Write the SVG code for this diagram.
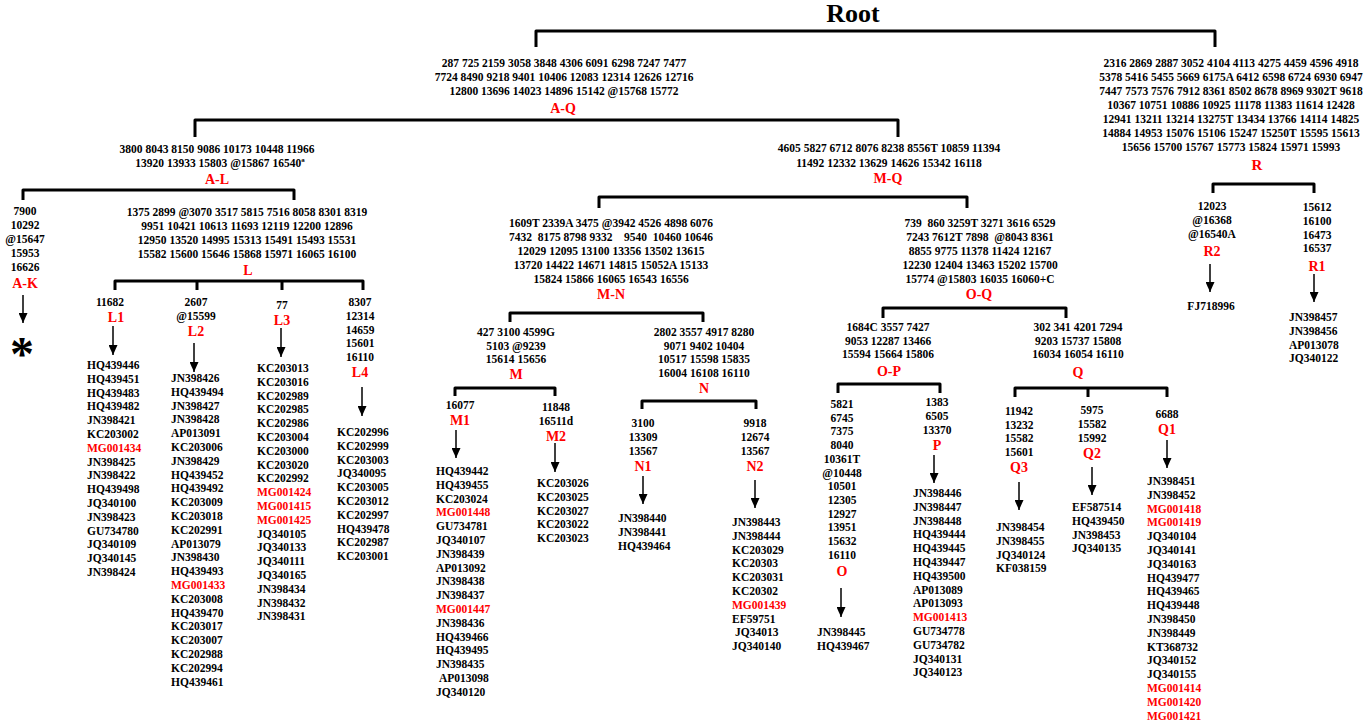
<svg xmlns="http://www.w3.org/2000/svg" width="1372" height="721" viewBox="0 0 1372 721">
<defs>
<style>
.n{font-family:"Liberation Serif","Times New Roman",serif;font-weight:bold;font-size:11.5px;fill:#000;text-anchor:middle;white-space:pre}
.l{font-family:"Liberation Serif","Times New Roman",serif;font-weight:bold;font-size:11.5px;fill:#000}
.red{fill:#f00}
.lab{font-family:"Liberation Serif","Times New Roman",serif;font-weight:bold;font-size:14px;fill:#f00;text-anchor:middle}
.br{fill:none;stroke:#000;stroke-width:3;stroke-linejoin:round}
.ar{fill:none;stroke:#000;stroke-width:1.5;marker-end:url(#ah)}
</style>
<marker id="ah" markerUnits="userSpaceOnUse" markerWidth="10" markerHeight="9" refX="10" refY="4.5" orient="auto"><path d="M0,0 L10,4.5 L0,9 z" fill="#000"/></marker>
</defs>
<rect width="1372" height="721" fill="#fff"/>

<g id="connectors">
<path class="br" d="M536,47 V31 H1215 V47"/>
<path class="br" d="M195,137 V120 H898 V137"/>
<path class="br" d="M23,200 V190 H294 V200"/>
<path class="br" d="M115,290 V281 H363 V290 M197,281 V290 M282,281 V290"/>
<path class="br" d="M599,208 V197 H967 V208"/>
<path class="br" d="M510,322 V313 H703 V322"/>
<path class="br" d="M883,318 V308 H1066 V318"/>
<path class="br" d="M455,396 V388 H555 V396"/>
<path class="br" d="M642,409 V401 H756 V409"/>
<path class="br" d="M838,393 V384 H940 V393"/>
<path class="br" d="M1015,397 V388 H1167 V397 M1088,388 V397"/>
<path class="br" d="M1213,193 V184 H1314 V193"/>
<line class="ar" x1="23" y1="295" x2="23" y2="323"/>
<line class="ar" x1="113" y1="326" x2="113" y2="355"/>
<line class="ar" x1="194" y1="343" x2="194" y2="372"/>
<line class="ar" x1="281" y1="328" x2="281" y2="357"/>
<line class="ar" x1="362" y1="387" x2="362" y2="416"/>
<line class="ar" x1="456" y1="430" x2="456" y2="458"/>
<line class="ar" x1="555" y1="443" x2="555" y2="472"/>
<line class="ar" x1="643" y1="476" x2="643" y2="504"/>
<line class="ar" x1="755" y1="480" x2="755" y2="508"/>
<line class="ar" x1="841" y1="588" x2="841" y2="617"/>
<line class="ar" x1="934" y1="455" x2="934" y2="483"/>
<line class="ar" x1="1019" y1="482" x2="1019" y2="510"/>
<line class="ar" x1="1092" y1="467" x2="1092" y2="495"/>
<line class="ar" x1="1167" y1="440" x2="1167" y2="468"/>
<line class="ar" x1="1210" y1="264" x2="1210" y2="292"/>
<line class="ar" x1="1314" y1="274" x2="1314" y2="302"/>
</g>

<g id="Root"><text x="853" y="22" style="font-family:'Liberation Serif',serif;font-weight:bold;font-size:26px;text-anchor:middle">Root</text></g>

<g id="AQ"><text class="n" x="564" y="67">287 725 2159 3058 3848 4306 6091 6298 7247 7477<tspan x="564" dy="14">7724 8490 9218 9401 10406 12083 12314 12626 12716</tspan><tspan x="564" dy="14">12800 13696 14023 14896 15142 @15768 15772</tspan></text><text class="lab" x="563" y="113">A-Q</text></g>

<g id="R"><text class="n" x="1231" y="67">2316 2869 2887 3052 4104 4113 4275 4459 4596 4918<tspan x="1231" dy="14">5378 5416 5455 5669 6175A 6412 6598 6724 6930 6947</tspan><tspan x="1231" dy="14">7447 7573 7576 7912 8361 8502 8678 8969 9302T 9618</tspan><tspan x="1231" dy="14">10367 10751 10886 10925 11178 11383 11614 12428</tspan><tspan x="1231" dy="14">12941 13211 13214 13275T 13434 13766 14114 14825</tspan><tspan x="1231" dy="14">14884 14953 15076 15106 15247 15250T 15595 15613</tspan><tspan x="1231" dy="14">15656 15700 15767 15773 15824 15971 15993</tspan></text><text class="lab" x="1257" y="170" style="font-size:15px">R</text></g>

<g id="AL"><text class="n" x="217" y="153">3800 8043 8150 9086 10173 10448 11966<tspan x="220" dy="14">13920 13933 15803 @15867 16540ª</tspan></text><text class="lab" x="217" y="184">A-L</text></g>

<g id="AK"><text class="n" x="25" y="215">7900<tspan x="25" dy="13.9">10292</tspan><tspan x="25" dy="13.9">@15647</tspan><tspan x="25" dy="13.9">15953</tspan><tspan x="25" dy="13.9">16626</tspan></text><text class="lab" x="25" y="288">A-K</text><text x="22" y="370" style="font-family:'Liberation Serif',serif;font-weight:bold;font-size:48px;text-anchor:middle">*</text></g>

<g id="L"><text class="n" x="247" y="216">1375 2899 @3070 3517 5815 7516 8058 8301 8319<tspan x="247" dy="14">9951 10421 10613 11693 12119 12200 12896</tspan><tspan x="247" dy="14">12950 13520 14995 15313 15491 15493 15531</tspan><tspan x="247" dy="14">15582 15600 15646 15868 15971 16065 16100</tspan></text><text class="lab" x="248" y="275">L</text></g>

<g id="L1"><text class="n" x="110" y="306">11682</text><text class="lab" x="116" y="322">L1</text>
<text class="l" x="87" y="369">HQ439446<tspan x="87" dy="13.8">HQ439451</tspan><tspan x="87" dy="13.8">HQ439483</tspan><tspan x="87" dy="13.8">HQ439482</tspan><tspan x="87" dy="13.8">JN398421</tspan><tspan x="87" dy="13.8">KC203002</tspan><tspan x="87" dy="13.8" class="red">MG001434</tspan><tspan x="87" dy="13.8">JN398425</tspan><tspan x="87" dy="13.8">JN398422</tspan><tspan x="87" dy="13.8">HQ439498</tspan><tspan x="87" dy="13.8">JQ340100</tspan><tspan x="87" dy="13.8">JN398423</tspan><tspan x="87" dy="13.8">GU734780</tspan><tspan x="87" dy="13.8">JQ340109</tspan><tspan x="87" dy="13.8">JQ340145</tspan><tspan x="87" dy="13.8">JN398424</tspan></text></g>

<g id="L2"><text class="n" x="196" y="306">2607<tspan x="196" dy="14">@15599</tspan></text><text class="lab" x="196" y="336">L2</text>
<text class="l" x="171" y="382">JN398426<tspan x="171" dy="13.8">HQ439494</tspan><tspan x="171" dy="13.8">JN398427</tspan><tspan x="171" dy="13.8">JN398428</tspan><tspan x="171" dy="13.8">AP013091</tspan><tspan x="171" dy="13.8">KC203006</tspan><tspan x="171" dy="13.8">JN398429</tspan><tspan x="171" dy="13.8">HQ439452</tspan><tspan x="171" dy="13.8">HQ439492</tspan><tspan x="171" dy="13.8">KC203009</tspan><tspan x="171" dy="13.8">KC203018</tspan><tspan x="171" dy="13.8">KC202991</tspan><tspan x="171" dy="13.8">AP013079</tspan><tspan x="171" dy="13.8">JN398430</tspan><tspan x="171" dy="13.8">HQ439493</tspan><tspan x="171" dy="13.8" class="red">MG001433</tspan><tspan x="171" dy="13.8">KC203008</tspan><tspan x="171" dy="13.8">HQ439470</tspan><tspan x="171" dy="13.8">KC203017</tspan><tspan x="171" dy="13.8">KC203007</tspan><tspan x="171" dy="13.8">KC202988</tspan><tspan x="171" dy="13.8">KC202994</tspan><tspan x="171" dy="13.8">HQ439461</tspan></text></g>

<g id="L3"><text class="n" x="282" y="309">77</text><text class="lab" x="282" y="325">L3</text>
<text class="l" x="257" y="372">KC203013<tspan x="257" dy="13.8">KC203016</tspan><tspan x="257" dy="13.8">KC202989</tspan><tspan x="257" dy="13.8">KC202985</tspan><tspan x="257" dy="13.8">KC202986</tspan><tspan x="257" dy="13.8">KC203004</tspan><tspan x="257" dy="13.8">KC203000</tspan><tspan x="257" dy="13.8">KC203020</tspan><tspan x="257" dy="13.8">KC202992</tspan><tspan x="257" dy="13.8" class="red">MG001424</tspan><tspan x="257" dy="13.8" class="red">MG001415</tspan><tspan x="257" dy="13.8" class="red">MG001425</tspan><tspan x="257" dy="13.8">JQ340105</tspan><tspan x="257" dy="13.8">JQ340133</tspan><tspan x="257" dy="13.8">JQ340111</tspan><tspan x="257" dy="13.8">JQ340165</tspan><tspan x="257" dy="13.8">JN398434</tspan><tspan x="257" dy="13.8">JN398432</tspan><tspan x="257" dy="13.8">JN398431</tspan></text></g>

<g id="L4"><text class="n" x="360" y="306">8307<tspan x="360" dy="13.8">12314</tspan><tspan x="360" dy="13.8">14659</tspan><tspan x="360" dy="13.8">15601</tspan><tspan x="360" dy="13.8">16110</tspan></text><text class="lab" x="360" y="377">L4</text>
<text class="l" x="337" y="436">KC202996<tspan x="337" dy="13.8">KC202999</tspan><tspan x="337" dy="13.8">KC203003</tspan><tspan x="337" dy="13.8">JQ340095</tspan><tspan x="337" dy="13.8">KC203005</tspan><tspan x="337" dy="13.8">KC203012</tspan><tspan x="337" dy="13.8">KC202997</tspan><tspan x="337" dy="13.8">HQ439478</tspan><tspan x="337" dy="13.8">KC202987</tspan><tspan x="337" dy="13.8">KC203001</tspan></text></g>

<g id="MQ"><text class="n" x="889" y="152">4605 5827 6712 8076 8238 8556T 10859 11394<tspan x="889" dy="15">11492 12332 13629 14626 15342 16118</tspan></text><text class="lab" x="888" y="183">M-Q</text></g>

<g id="MN"><text class="n" x="611" y="227">1609T 2339A 3475 @3942 4526 4898 6076<tspan x="611" dy="14">7432  8175 8798 9332    9540  10460 10646</tspan><tspan x="611" dy="14">12029 12095 13100 13356 13502 13615</tspan><tspan x="611" dy="14">13720 14422 14671 14815 15052A 15133</tspan><tspan x="611" dy="14">15824 15866 16065 16543 16556</tspan></text><text class="lab" x="611" y="299">M-N</text></g>

<g id="OQ"><text class="n" x="980" y="227">739  860 3259T 3271 3616 6529<tspan x="980" dy="14">7243 7612T 7898  @8043 8361</tspan><tspan x="980" dy="14">8855 9775 11378 11424 12167</tspan><tspan x="980" dy="13.5">12230 12404 13463 15202 15700</tspan><tspan x="980" dy="14">15774 @15803 16035 16060+C</tspan></text><text class="lab" x="979" y="299">O-Q</text></g>

<g id="M"><text class="n" x="516" y="336">427 3100 4599G<tspan x="516" dy="13.6">5103 @9239</tspan><tspan x="516" dy="13.6">15614 15656</tspan></text><text class="lab" x="516" y="379">M</text></g>

<g id="M1"><text class="n" x="460" y="409">16077</text><text class="lab" x="460" y="425">M1</text>
<text class="l" x="436" y="475">HQ439442<tspan x="436" dy="13.8">HQ439455</tspan><tspan x="436" dy="13.8">KC203024</tspan><tspan x="436" dy="13.8" class="red">MG001448</tspan><tspan x="436" dy="13.8">GU734781</tspan><tspan x="436" dy="13.8">JQ340107</tspan><tspan x="436" dy="13.8">JN398439</tspan><tspan x="436" dy="13.8">AP013092</tspan><tspan x="436" dy="13.8">JN398438</tspan><tspan x="436" dy="13.8">JN398437</tspan><tspan x="436" dy="13.8" class="red">MG001447</tspan><tspan x="436" dy="13.8">JN398436</tspan><tspan x="436" dy="13.8">HQ439466</tspan><tspan x="436" dy="13.8">HQ439495</tspan><tspan x="436" dy="13.8">JN398435</tspan><tspan x="439" dy="13.8">AP013098</tspan><tspan x="436" dy="13.8">JQ340120</tspan></text></g>

<g id="M2"><text class="n" x="556" y="411">11848<tspan x="556" dy="14">16511d</tspan></text><text class="lab" x="556" y="441">M2</text>
<text class="l" x="537" y="487">KC203026<tspan x="537" dy="13.8">KC203025</tspan><tspan x="537" dy="13.8">KC203027</tspan><tspan x="537" dy="13.8">KC203022</tspan><tspan x="537" dy="13.8">KC203023</tspan></text></g>

<g id="N"><text class="n" x="704" y="336">2802 3557 4917 8280<tspan x="704" dy="13.7">9071 9402 10404</tspan><tspan x="704" dy="13.7">10517 15598 15835</tspan><tspan x="704" dy="13.7">16004 16108 16110</tspan></text><text class="lab" x="704" y="393">N</text></g>

<g id="N1"><text class="n" x="643" y="427">3100<tspan x="643" dy="14">13309</tspan><tspan x="643" dy="14">13567</tspan></text><text class="lab" x="643" y="471">N1</text>
<text class="l" x="618" y="522">JN398440<tspan x="618" dy="13.8">JN398441</tspan><tspan x="618" dy="13.8">HQ439464</tspan></text></g>

<g id="N2"><text class="n" x="755" y="427">9918<tspan x="755" dy="14">12674</tspan><tspan x="755" dy="14">13567</tspan></text><text class="lab" x="755" y="471">N2</text>
<text class="l" x="732" y="526">JN398443<tspan x="732" dy="13.8">JN398444</tspan><tspan x="732" dy="13.8">KC203029</tspan><tspan x="732" dy="13.8">KC20303</tspan><tspan x="732" dy="13.8">KC203031</tspan><tspan x="732" dy="13.8">KC20302</tspan><tspan x="732" dy="13.8" class="red">MG001439</tspan><tspan x="732" dy="13.8">EF59751</tspan><tspan x="735" dy="13.8">JQ34013</tspan><tspan x="732" dy="13.8">JQ340140</tspan></text></g>

<g id="OP"><text class="n" x="888" y="331">1684C 3557 7427<tspan x="888" dy="13.7">9053 12287 13466</tspan><tspan x="888" dy="13.7">15594 15664 15806</tspan></text><text class="lab" x="889" y="376">O-P</text></g>

<g id="O"><text class="n" x="842" y="408">5821<tspan x="842" dy="13.7">6745</tspan><tspan x="842" dy="13.7">7375</tspan><tspan x="842" dy="13.7">8040</tspan><tspan x="842" dy="13.7">10361T</tspan><tspan x="842" dy="13.7">@10448</tspan><tspan x="842" dy="13.7">10501</tspan><tspan x="842" dy="13.7">12305</tspan><tspan x="842" dy="13.7">12927</tspan><tspan x="842" dy="13.7">13951</tspan><tspan x="842" dy="13.7">15632</tspan><tspan x="842" dy="13.7">16110</tspan></text><text class="lab" x="842" y="576">O</text>
<text class="l" x="817" y="636">JN398445<tspan x="817" dy="13.8">HQ439467</tspan></text></g>

<g id="P"><text class="n" x="937" y="406">1383<tspan x="937" dy="14">6505</tspan><tspan x="937" dy="14">13370</tspan></text><text class="lab" x="937" y="450">P</text>
<text class="l" x="913" y="497">JN398446<tspan x="913" dy="13.8">JN398447</tspan><tspan x="913" dy="13.8">JN398448</tspan><tspan x="913" dy="13.8">HQ439444</tspan><tspan x="913" dy="13.8">HQ439445</tspan><tspan x="913" dy="13.8">HQ439447</tspan><tspan x="913" dy="13.8">HQ439500</tspan><tspan x="913" dy="13.8">AP013089</tspan><tspan x="913" dy="13.8">AP013093</tspan><tspan x="913" dy="13.8" class="red">MG001413</tspan><tspan x="913" dy="13.8">GU734778</tspan><tspan x="913" dy="13.8">GU734782</tspan><tspan x="913" dy="13.8">JQ340131</tspan><tspan x="913" dy="13.8">JQ340123</tspan></text></g>

<g id="Q"><text class="n" x="1078" y="331">302 341 4201 7294<tspan x="1078" dy="13.7">9203 15737 15808</tspan><tspan x="1078" dy="13.7">16034 16054 16110</tspan></text><text class="lab" x="1078" y="377">Q</text></g>

<g id="Q3"><text class="n" x="1019" y="415">11942<tspan x="1019" dy="13.7">13232</tspan><tspan x="1019" dy="13.7">15582</tspan><tspan x="1019" dy="13.7">15601</tspan></text><text class="lab" x="1019" y="472">Q3</text>
<text class="l" x="996" y="531">JN398454<tspan x="996" dy="13.8">JN398455</tspan><tspan x="996" dy="13.8">JQ340124</tspan><tspan x="996" dy="13.8">KF038159</tspan></text></g>

<g id="Q2"><text class="n" x="1092" y="414">5975<tspan x="1092" dy="14">15582</tspan><tspan x="1092" dy="14">15992</tspan></text><text class="lab" x="1092" y="458">Q2</text>
<text class="l" x="1072" y="511">EF587514<tspan x="1072" dy="13.8">HQ439450</tspan><tspan x="1072" dy="13.8">JN398453</tspan><tspan x="1072" dy="13.8">JQ340135</tspan></text></g>

<g id="Q1"><text class="n" x="1167" y="418">6688</text><text class="lab" x="1167" y="434">Q1</text>
<text class="l" x="1147" y="485">JN398451<tspan x="1147" dy="13.8">JN398452</tspan><tspan x="1147" dy="13.8" class="red">MG001418</tspan><tspan x="1147" dy="13.8" class="red">MG001419</tspan><tspan x="1147" dy="13.8">JQ340104</tspan><tspan x="1147" dy="13.8">JQ340141</tspan><tspan x="1147" dy="13.8">JQ340163</tspan><tspan x="1147" dy="13.8">HQ439477</tspan><tspan x="1147" dy="13.8">HQ439465</tspan><tspan x="1147" dy="13.8">HQ439448</tspan><tspan x="1147" dy="13.8">JN398450</tspan><tspan x="1147" dy="13.8">JN398449</tspan><tspan x="1147" dy="13.8">KT368732</tspan><tspan x="1147" dy="13.8">JQ340152</tspan><tspan x="1147" dy="13.8">JQ340155</tspan><tspan x="1147" dy="13.8" class="red">MG001414</tspan><tspan x="1147" dy="13.8" class="red">MG001420</tspan><tspan x="1147" dy="13.8" class="red">MG001421</tspan></text></g>

<g id="R2"><text class="n" x="1212" y="210">12023<tspan x="1212" dy="14">@16368</tspan><tspan x="1212" dy="14">@16540A</tspan></text><text class="lab" x="1212" y="256">R2</text>
<text class="n" x="1211" y="310">FJ718996</text></g>

<g id="R1"><text class="n" x="1317" y="211">15612<tspan x="1317" dy="13.8">16100</tspan><tspan x="1317" dy="13.8">16473</tspan><tspan x="1317" dy="13.8">16537</tspan></text><text class="lab" x="1317" y="271">R1</text>
<text class="l" x="1289" y="321">JN398457<tspan x="1289" dy="13.8">JN398456</tspan><tspan x="1289" dy="13.8">AP013078</tspan><tspan x="1289" dy="13.8">JQ340122</tspan></text></g>
</svg>
